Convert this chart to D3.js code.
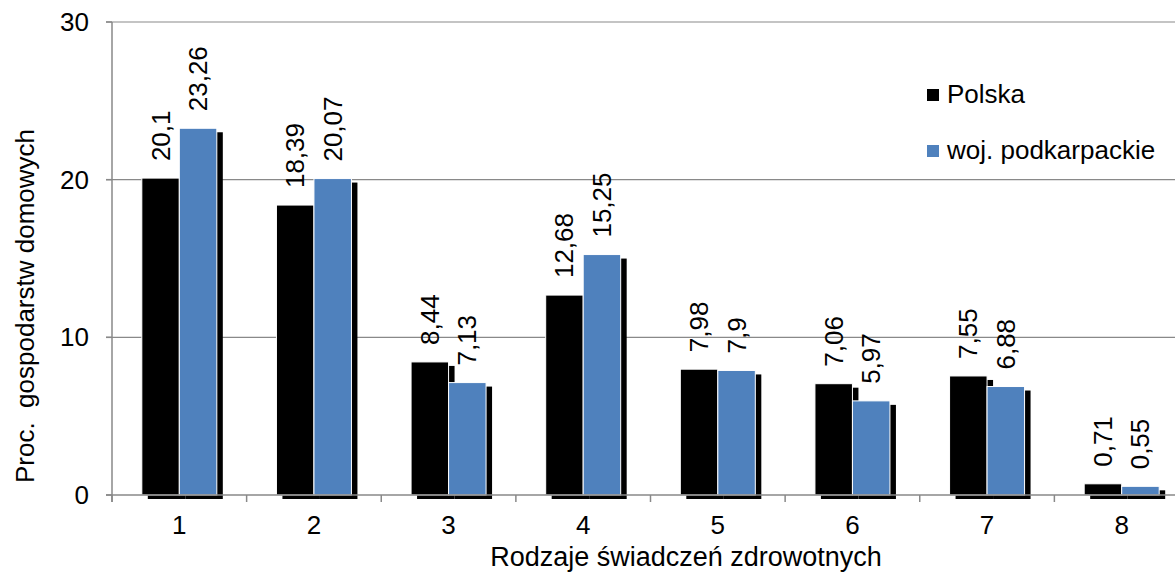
<!DOCTYPE html>
<html>
<head>
<meta charset="utf-8">
<script src="https://cdn.jsdelivr.net/npm/d3@7"></script>
<style>
  body { margin: 0; background: #fff; }
  svg text { font-family: "Liberation Sans", Arial, sans-serif; fill: #000; }
</style>
</head>
<body>
<div id="chart"></div>
<script>
// categories on the x axis (types of health benefits)
var categories = ["1", "2", "3", "4", "5", "6", "7", "8"];
var seriesNames = ["Polska", "woj. podkarpackie"];
var polska = [20.1, 18.39, 8.44, 12.68, 7.98, 7.06, 7.55, 0.71];
var podkarpackie = [23.26, 20.07, 7.13, 15.25, 7.9, 5.97, 6.88, 0.55];
var yTicks = [0, 10, 20, 30];
var colors = ["#000000", "#4f81bd"];

var W = 1175, H = 573;
// plot box (right edge runs past the picture, as in the original)
var plotLeft = 112, plotRight = 1189, plotTop = 22, plotBottom = 495;
var fs = "26px";

var svg = d3.select("#chart").append("svg")
  .attr("width", W)
  .attr("height", H);

var x0 = d3.scaleBand()
  .domain(categories)
  .range([plotLeft, plotRight])
  .padding(0);

var x1 = d3.scaleBand()
  .domain(seriesNames)
  .range([0, x0.bandwidth()])
  .paddingInner(0)
  .paddingOuter(0.795);

var y = d3.scaleLinear()
  .domain([0, 30])
  .range([plotBottom, plotTop]);

// grid lines
svg.append("g").selectAll("line")
  .data(yTicks.filter(d => d > 0))
  .enter().append("line")
    .attr("x1", plotLeft - 6).attr("x2", W)
    .attr("y1", d => y(d)).attr("y2", d => y(d))
    .attr("stroke", "#898989")
    .attr("stroke-width", 1.2);

// build rows from the arrays
var rows = categories.map(function(c, i) {
  return {cat: c, vals: [
    {name: seriesNames[0], value: polska[i], color: colors[0]},
    {name: seriesNames[1], value: podkarpackie[i], color: colors[1]}
  ]};
});

var groups = svg.selectAll(".grp")
  .data(rows)
  .enter().append("g")
    .attr("class", "grp")
    .attr("transform", d => `translate(${x0(d.cat)},0)`);

// shadows first
groups.selectAll(".shadow")
  .data(d => d.vals)
  .enter().append("rect")
    .attr("class", "shadow")
    .attr("x", d => x1(d.name) + 6)
    .attr("y", d => y(d.value) + 4)
    .attr("width", x1.bandwidth())
    .attr("height", d => plotBottom - y(d.value))
    .attr("fill", "#000");

groups.selectAll(".bar")
  .data(d => d.vals)
  .enter().append("rect")
    .attr("class", "bar")
    .attr("x", d => x1(d.name))
    .attr("y", d => y(d.value))
    .attr("width", x1.bandwidth())
    .attr("height", d => plotBottom - y(d.value))
    .attr("fill", d => d.color)
    .attr("stroke", "#ffffff")
    .attr("stroke-width", 1);

// value labels, rotated
groups.selectAll(".lbl")
  .data(d => d.vals)
  .enter().append("text")
    .attr("class", "lbl")
    .attr("transform", d => `translate(${x1(d.name) + x1.bandwidth() / 2 + 9},${y(d.value) - 17}) rotate(-90)`)
    .style("font-size", fs)
    .text(d => String(d.value).replace(".", ","));

// x axis line + ticks
svg.append("line")
  .attr("x1", plotLeft - 6).attr("x2", W)
  .attr("y1", plotBottom).attr("y2", plotBottom)
  .attr("stroke", "#898989").attr("stroke-width", 1.5);

svg.append("g").selectAll("line")
  .data(categories)
  .enter().append("line")
    .attr("x1", d => x0(d)).attr("x2", d => x0(d))
    .attr("y1", plotBottom).attr("y2", plotBottom + 7)
    .attr("stroke", "#898989").attr("stroke-width", 1.5);

svg.append("g").selectAll("text")
  .data(categories)
  .enter().append("text")
    .attr("x", d => x0(d) + x0.bandwidth() / 2)
    .attr("y", 534)
    .attr("text-anchor", "middle")
    .style("font-size", fs)
    .text(d => d);

// y axis
svg.append("line")
  .attr("x1", plotLeft).attr("x2", plotLeft)
  .attr("y1", plotTop).attr("y2", plotBottom + 7)
  .attr("stroke", "#898989").attr("stroke-width", 1.5);

svg.append("g").selectAll("line")
  .data(yTicks)
  .enter().append("line")
    .attr("x1", plotLeft - 6).attr("x2", plotLeft)
    .attr("y1", d => y(d)).attr("y2", d => y(d))
    .attr("stroke", "#898989").attr("stroke-width", 1.5);

svg.append("g").selectAll("text")
  .data(yTicks)
  .enter().append("text")
    .attr("x", 89)
    .attr("y", d => y(d) + 9)
    .attr("text-anchor", "end")
    .style("font-size", fs)
    .text(d => d);

// axis titles
svg.append("text")
  .attr("x", 686)
  .attr("y", 566)
  .attr("text-anchor", "middle")
  .style("font-size", "27px")
  .text("Rodzaje świadczeń zdrowotnych");

svg.append("text")
  .attr("transform", "translate(34,306) rotate(-90)")
  .attr("text-anchor", "middle")
  .style("font-size", fs)
  .style("white-space", "pre")
  .text("Proc.  gospodarstw domowych");

// legend
var legend = svg.append("g").selectAll("g")
  .data(seriesNames)
  .enter().append("g")
    .attr("transform", (d, i) => `translate(927,${89 + i * 56})`);

legend.append("rect")
  .attr("width", 12).attr("height", 12)
  .attr("fill", (d, i) => colors[i]);

legend.append("text")
  .attr("x", 20).attr("y", 14)
  .style("font-size", fs)
  .text(d => d);
</script>
</body>
</html>
